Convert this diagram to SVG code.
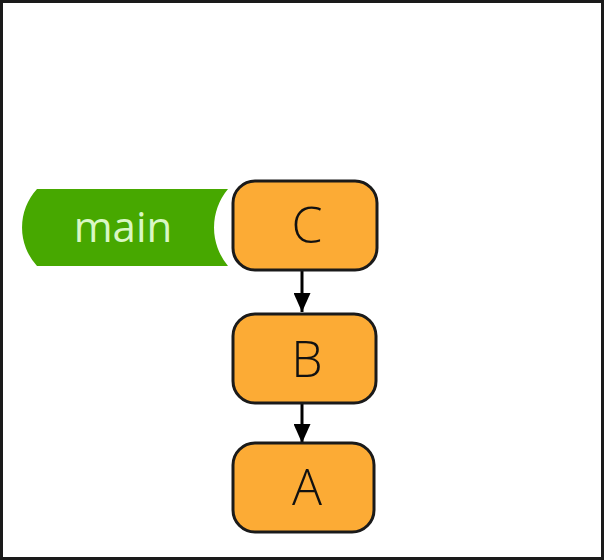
<svg xmlns="http://www.w3.org/2000/svg" width="604" height="560" viewBox="0 0 604 560">
<style>
.node rect{fill:#fcab35;stroke:#1a1a1a;stroke-width:3}
.node text{font-family:"Open Sans","Noto Sans",sans-serif;font-weight:300;font-size:50px;fill:#111;text-anchor:middle}
.edge{stroke:#000;stroke-width:3;fill:none}
</style>
<defs>
<marker id="arr" markerWidth="19" markerHeight="17" refX="19" refY="8.5" orient="auto" markerUnits="userSpaceOnUse">
<path d="M0,0 L19,8.5 L0,17 Z" fill="#000"/>
</marker>
</defs>
<rect x="1.5" y="1.5" width="601" height="557" fill="#fff" stroke="#1a1a1a" stroke-width="3"/>
<g id="branch-main">
<path d="M37,189 L228,189 A60,60 0 0 0 228,266 L37,266 A57,57 0 0 1 37,189 Z" fill="#47a800"/>
<text x="123" y="242" font-family="'Open Sans','Noto Sans',sans-serif" font-size="42" fill="#d9f7c4" text-anchor="middle">main</text>
</g>
<g id="connectors">
<line class="edge" x1="302" y1="270" x2="302" y2="312" marker-end="url(#arr)"/>
<line class="edge" x1="302" y1="403" x2="302" y2="443" marker-end="url(#arr)"/>
</g>
<g id="node-C" class="node">
<rect x="233" y="181" width="144" height="89" rx="22"/>
<text x="307" y="243">C</text>
</g>
<g id="node-B" class="node">
<rect x="233" y="314" width="143" height="89" rx="22"/>
<text x="307" y="377">B</text>
</g>
<g id="node-A" class="node">
<rect x="233" y="443" width="141" height="89" rx="22"/>
<text x="307" y="505">A</text>
</g>
</svg>
